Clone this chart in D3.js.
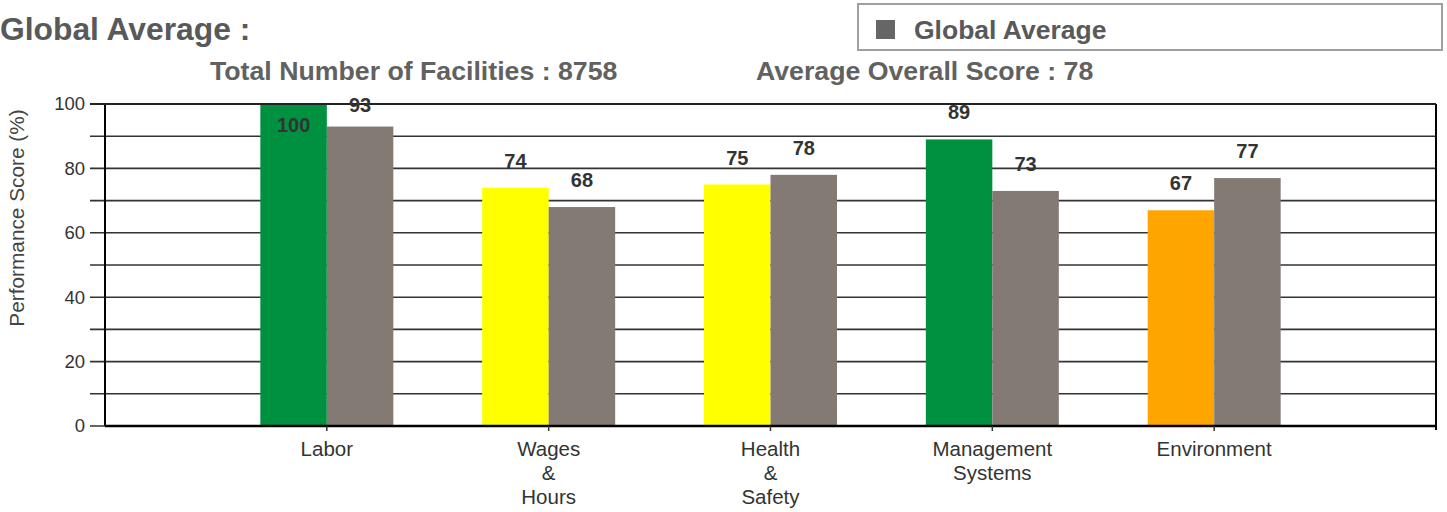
<!DOCTYPE html>
<html><head><meta charset="utf-8">
<script src="https://cdn.jsdelivr.net/npm/d3@7"></script>
<style>body{margin:0;background:#fff;}svg text{font-family:Arial,"Liberation Sans",Helvetica,sans-serif;}</style>
</head><body>
<svg id="c" width="1447" height="512"></svg>
<script>
const categories = ["Labor", "Wages\n&\nHours", "Health\n&\nSafety", "Management\nSystems", "Environment"];
const facilityScores = [100, 74, 75, 89, 67];
const facilityColors = ["#009140", "#ffff00", "#ffff00", "#009140", "#ffa500"];
const globalAverage = [93, 68, 78, 73, 77];
const yTicks = [0, 20, 40, 60, 80, 100];
const gridTicks = [0, 10, 20, 30, 40, 50, 60, 70, 80, 90, 100];
const titleText = "Global Average :";
const subtitle1 = "Total Number of Facilities : 8758";
const subtitle2 = "Average Overall Score : 78";
const legendLabel = "Global Average";

const svg = d3.select("#c");
const L = 105, R = 1436, T = 104, B = 426;
const step = (R - L) / 6;
const x = d3.scalePoint().domain(categories).range([L + step, R - step]);
const y = d3.scaleLinear().domain([0, 100]).range([B, T]);
const bw = 66.5;
const grey = "#847a74";

// title
svg.append("text").attr("x", 0).attr("y", 40).attr("font-size", 31.8).attr("font-weight", "bold").attr("fill", "#58595b").text(titleText);
svg.append("text").attr("x", 210).attr("y", 80).attr("font-size", 26.7).attr("font-weight", "bold").attr("fill", "#616161").text(subtitle1);
svg.append("text").attr("x", 756).attr("y", 80).attr("font-size", 26.7).attr("font-weight", "bold").attr("fill", "#616161").text(subtitle2);

// legend
svg.append("rect").attr("x", 858).attr("y", 4).attr("width", 584).attr("height", 46).attr("fill", "#fff").attr("stroke", "#a0a0a0").attr("stroke-width", 2);
svg.append("rect").attr("x", 876).attr("y", 20).attr("width", 19).attr("height", 19).attr("fill", "#666");
svg.append("text").attr("x", 914).attr("y", 39).attr("font-size", 26.5).attr("font-weight", "bold").attr("fill", "#58595b").text(legendLabel);

// gridlines
svg.append("g").selectAll("line").data(gridTicks).join("line")
  .attr("x1", 90).attr("x2", R).attr("y1", d => y(d)).attr("y2", d => y(d))
  .attr("stroke", "#333").attr("stroke-width", 1.6);

// y tick labels
svg.append("g").selectAll("text").data(yTicks).join("text")
  .attr("x", 85).attr("y", d => y(d)).attr("dy", "0.35em").attr("text-anchor", "end")
  .attr("font-size", 18.5).attr("fill", "#333").text(d => d);

// y axis title
svg.append("text").attr("transform", "translate(24,218) rotate(-90)").attr("text-anchor", "middle")
  .attr("font-size", 20.8).attr("fill", "#444").text("Performance Score (%)");

// bars
const g = svg.append("g");
g.selectAll("rect.f").data(categories).join("rect").attr("class", "f")
  .attr("x", d => x(d) - bw).attr("width", bw)
  .attr("y", (d, i) => y(facilityScores[i])).attr("height", (d, i) => B - y(facilityScores[i]))
  .attr("fill", (d, i) => facilityColors[i]);
g.selectAll("rect.g").data(categories).join("rect").attr("class", "g")
  .attr("x", d => x(d)).attr("width", bw)
  .attr("y", (d, i) => y(globalAverage[i])).attr("height", (d, i) => B - y(globalAverage[i]))
  .attr("fill", grey);

// plot frame
svg.append("line").attr("x1", L).attr("x2", L).attr("y1", T).attr("y2", B).attr("stroke", "#000").attr("stroke-width", 2);
svg.append("line").attr("x1", R).attr("x2", R).attr("y1", T).attr("y2", B + 4).attr("stroke", "#000").attr("stroke-width", 2);
svg.append("line").attr("x1", 90).attr("x2", R).attr("y1", T).attr("y2", T).attr("stroke", "#222").attr("stroke-width", 1.8);
svg.append("line").attr("x1", L).attr("x2", R).attr("y1", B).attr("y2", B).attr("stroke", "#000").attr("stroke-width", 2.5);

// x ticks
svg.append("g").selectAll("line").data(categories).join("line")
  .attr("x1", d => x(d)).attr("x2", d => x(d)).attr("y1", B).attr("y2", B + 5).attr("stroke", "#333").attr("stroke-width", 1.5);

// value labels
function lab(v) { if (v >= 100) return y(v) + 21; return Math.max(y(v) - 27, T + 1); }
svg.append("g").selectAll("text").data(categories).join("text")
  .attr("x", d => x(d) - bw / 2).attr("y", (d, i) => lab(facilityScores[i])).attr("dy", "0.35em")
  .attr("text-anchor", "middle").attr("font-size", 20).attr("font-weight", "bold").attr("fill", "#333")
  .text((d, i) => facilityScores[i]);
svg.append("g").selectAll("text").data(categories).join("text")
  .attr("x", d => x(d) + bw / 2).attr("y", (d, i) => lab(globalAverage[i])).attr("dy", "0.35em")
  .attr("text-anchor", "middle").attr("font-size", 20).attr("font-weight", "bold").attr("fill", "#333")
  .text((d, i) => globalAverage[i]);

// x labels
const xl = svg.append("g").selectAll("text").data(categories).join("text")
  .attr("text-anchor", "middle").attr("font-size", 20.5).attr("fill", "#333");
xl.each(function (d) {
  const t = d3.select(this);
  d.split("\n").forEach((s, k) => {
    t.append("tspan").attr("x", x(d)).attr("y", 456 + k * 24).text(s);
  });
});
</script>
</body></html>
